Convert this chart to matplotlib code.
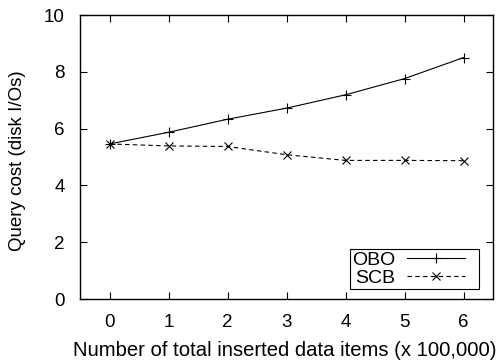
import matplotlib
matplotlib.use("Agg")
import matplotlib.pyplot as plt
from matplotlib.legend_handler import HandlerLine2D

x = [0, 1, 2, 3, 4, 5, 6]
obo = [5.46, 5.87, 6.33, 6.72, 7.19, 7.76, 8.50]
scb = [5.46, 5.39, 5.37, 5.08, 4.88, 4.88, 4.87]
xticks = [0, 1, 2, 3, 4, 5, 6]
yticks = [0, 2, 4, 6, 8, 10]

plt.rcParams['font.family'] = ['Liberation Sans', 'DejaVu Sans']
plt.rcParams['font.size'] = 14


class PaddedLine(HandlerLine2D):
    def create_artists(self, legend, orig_handle, xdescent, ydescent, width,
                       height, fontsize, trans):
        return super().create_artists(legend, orig_handle, xdescent, ydescent,
                                      width - 8.5, height, fontsize, trans)


fig = plt.figure(figsize=(4.99, 3.62), dpi=100)
ax = fig.add_axes([80/499, 1 - 299/362, (493-80)/499, (299-15)/362])

l1, = ax.plot(x, obo, color='black', linestyle='-', linewidth=0.8, marker='+',
              markersize=7, markeredgewidth=0.8, label='OBO')
l2, = ax.plot(x, scb, color='black', linestyle=(0, (4, 3)), linewidth=0.8, marker='x',
              markersize=6, markeredgewidth=0.8, label='SCB')

ax.set_xlim(-0.5, 6.5)
ax.set_ylim(0, 10)
ax.set_xticks(xticks)
ax.set_yticks(yticks)
ax.tick_params(direction='in', top=True, right=True, length=5, width=0.8, pad=11,
               labelsize=13.5)
for s in ax.spines.values():
    s.set_linewidth(1.0)

ax.set_xlabel('Number of total inserted data items (x 100,000)', fontsize=14.6)
ax.xaxis.set_label_coords((285 - 80) / 413, -(350 - 299) / 284)
ax.xaxis.label.set_va('center')
ax.set_ylabel('Query cost (disk I/Os)', fontsize=13.5)
ax.yaxis.set_label_coords(-(80 - 18) / 413, (299 - 161) / 284)
ax.yaxis.label.set_va('center')

h = PaddedLine()
leg = ax.legend(loc='lower right', bbox_to_anchor=((479 - 80) / 413, (299 - 289) / 284),
                markerfirst=False, frameon=True, fancybox=False,
                edgecolor='black', framealpha=1, borderpad=0.1, labelspacing=0.03,
                handlelength=3.6, handletextpad=0.6, borderaxespad=0.0, fontsize=14,
                handler_map={l1: h, l2: h})
leg.get_frame().set_linewidth(0.8)

fig.savefig('out.png', dpi=100)
